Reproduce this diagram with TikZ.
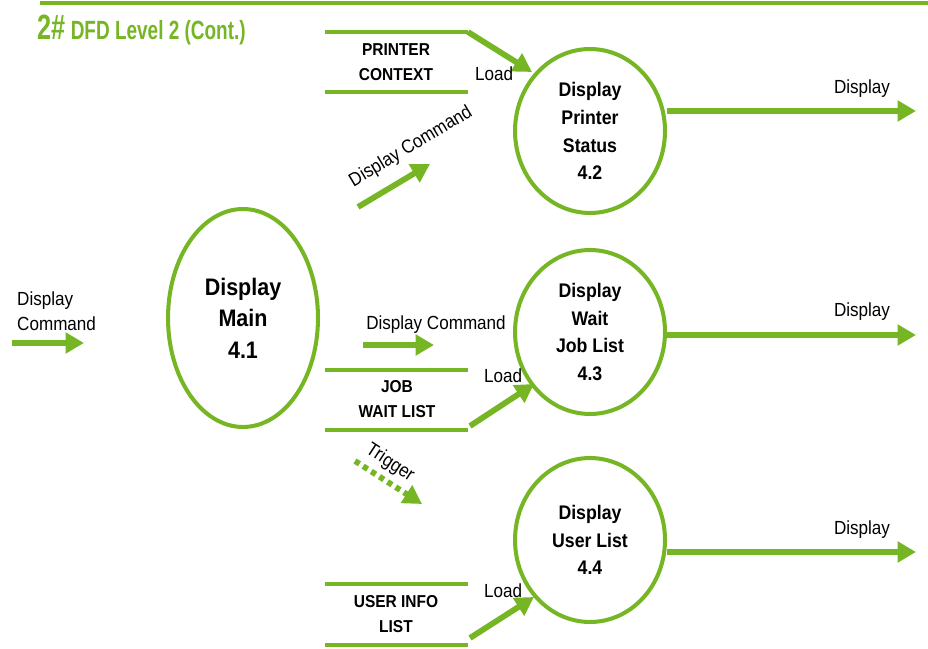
\documentclass[tikz,border=0pt]{standalone}
\usepackage{fontspec}
\setmainfont{Liberation Sans}[FakeStretch=0.9]
\newfontfamily\titlefont{Liberation Sans}[FakeStretch=0.72]
\usetikzlibrary{arrows.meta,shapes.geometric}
\definecolor{dfdgreen}{RGB}{118,182,36}

\begin{document}
\begin{tikzpicture}[x=0.02cm,y=-0.02cm,
			flow/.style={dfdgreen,line width=3.3pt,-{Triangle[length=10.5pt,width=11.5pt]}},
			trig/.style={flow,dash pattern=on 3pt off 2.5pt},
			proc/.style={ellipse,draw=dfdgreen,line width=2.3pt,inner sep=0pt,align=center,
				minimum width=3cm,minimum height=3.28cm,font=\bfseries\fontsize{11.2}{15.8}\selectfont},
			storeline/.style={dfdgreen,line width=1.8pt},
			storetext/.style={align=center,font=\bfseries\fontsize{9.8}{14.2}\selectfont},
			lbl/.style={font=\fontsize{10.8}{14.5}\selectfont}]
			\useasboundingbox (0,0) rectangle (928,648);
			\coordinate (T1) at (40,3);
			\coordinate (T2) at (928,3);
			\draw[dfdgreen,line width=2.2pt] (T1) -- (T2);
			\node[anchor=base west,text=dfdgreen,inner sep=0pt] (title) at (37,40)
				{\titlefont\bfseries\fontsize{20}{20}\selectfont 2\#\hspace{3pt}\fontsize{15}{15}\selectfont DFD Level 2 (Cont.)};

			\node[proc,minimum height=4.36cm,font=\bfseries\fontsize{13.6}{17.9}\selectfont] (P41) at (243,318) {Display\\Main\\4.1};
			\node[proc] (P42) at (590,131) {Display\\Printer\\Status\\4.2};
			\node[proc] (P43) at (590,332) {Display\\Wait\\Job List\\4.3};
			\node[proc] (P44) at (590,540) {Display\\User List\\4.4};

			\coordinate (I1) at (12,343);
			\coordinate (I2) at (84,343);
			\draw[flow] (I1) -- (I2);
			\node[lbl,anchor=west,align=left] (Lin) at (11,311) {Display\\Command};

			\coordinate (O42) at (916,111);
			\coordinate (O43) at (916,335);
			\coordinate (O44) at (916,552);
			\draw[flow] (P42.east |- O42) -- (O42);
			\draw[flow] (P43.east |- O43) -- (O43);
			\draw[flow] (P44.east |- O44) -- (O44);
			\node[lbl] (L42) at (862,89) {Display};
			\node[lbl] (L43) at (862,312) {Display};
			\node[lbl] (L44) at (862,530) {Display};

			\coordinate (PC1) at (325,32);
			\coordinate (PC2) at (468,32);
			\coordinate (PC3) at (325,92);
			\coordinate (PC4) at (468,92);
			\draw[storeline] (PC1) -- (PC2);
			\draw[storeline] (PC3) -- (PC4);
			\node[storetext] (PC) at (396,62) {PRINTER\\CONTEXT};
			\coordinate (PCin) at (532,72);
			\draw[flow] (PC2) -- (PCin);
			\node[lbl] (Lpc) at (494,74) {Load};

			\coordinate (DC1) at (358,207);
			\coordinate (DC2) at (430,164);
			\draw[flow] (DC1) -- (DC2);
			\node[lbl,rotate=31] (Ldc1) at (411,147) {Display Command};

			\coordinate (DC3) at (363,345);
			\coordinate (DC4) at (434,345);
			\draw[flow] (DC3) -- (DC4);
			\node[lbl] (Ldc2) at (436,325) {Display Command};

			\coordinate (JW1) at (325,370);
			\coordinate (JW2) at (468,370);
			\coordinate (JW3) at (325,430);
			\coordinate (JW4) at (468,430);
			\draw[storeline] (JW1) -- (JW2);
			\draw[storeline] (JW3) -- (JW4);
			\node[storetext] (JW) at (397,399) {JOB\\WAIT LIST};
			\coordinate (JWout) at (470,426);
			\coordinate (JWin) at (534,384);
			\draw[flow] (JWout) -- (JWin);
			\node[lbl] (Ljw) at (503,376) {Load};

			\coordinate (TR1) at (355,461);
			\coordinate (TR2) at (422,504);
			\draw[trig] (TR1) -- (TR2);
			\node[lbl,rotate=-33] (Ltr) at (390,463) {Trigger};

			\coordinate (UI1) at (325,584);
			\coordinate (UI2) at (468,584);
			\coordinate (UI3) at (325,645);
			\coordinate (UI4) at (468,645);
			\draw[storeline] (UI1) -- (UI2);
			\draw[storeline] (UI3) -- (UI4);
			\node[storetext] (UI) at (396,614) {USER INFO\\LIST};
			\coordinate (UIout) at (470,638);
			\coordinate (UIin) at (534,597);
			\draw[flow] (UIout) -- (UIin);
			\node[lbl] (Lui) at (503,591) {Load};
		\end{tikzpicture}
\end{document}
